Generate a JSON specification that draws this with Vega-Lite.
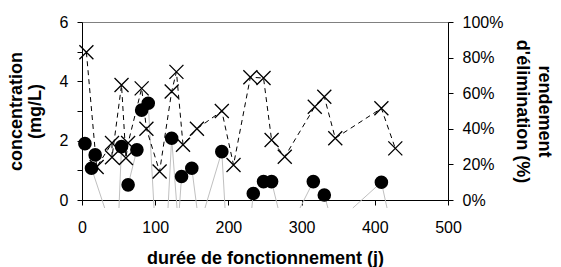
{
  "$schema": "https://vega.github.io/schema/vega-lite/v6.json",
  "width": 366,
  "height": 178,
  "autosize": {"type": "none"},
  "padding": {"left": 82, "top": 22, "right": 113, "bottom": 67},
  "background": "white",
  "config": {
    "view": {"stroke": "#808080", "strokeWidth": 1},
    "font": "Liberation Sans",
    "axis": {
      "labelFont": "Liberation Sans",
      "titleFont": "Liberation Sans",
      "labelColor": "black",
      "titleColor": "black",
      "domainColor": "black",
      "tickColor": "black",
      "grid": false,
      "labelFontSize": 16,
      "titleFontSize": 18,
      "titleFontWeight": "bold"
    }
  },
  "datasets": {
    "conc": [
      {"jour": 4, "conc": 1.9}, {"jour": 13, "conc": 1.07}, {"jour": 18, "conc": 1.52},
      {"jour": 54, "conc": 1.8}, {"jour": 63, "conc": 0.51}, {"jour": 75, "conc": 1.69},
      {"jour": 81.5, "conc": 3.03}, {"jour": 90.5, "conc": 3.26}, {"jour": 122.5, "conc": 2.08},
      {"jour": 136, "conc": 0.79}, {"jour": 150, "conc": 1.07}, {"jour": 191, "conc": 1.63},
      {"jour": 234, "conc": 0.22}, {"jour": 248, "conc": 0.62}, {"jour": 259, "conc": 0.62},
      {"jour": 316, "conc": 0.62}, {"jour": 331, "conc": 0.17}, {"jour": 409, "conc": 0.6}
    ],
    "rend": [
      {"jour": 6, "rendement": 83}, {"jour": 20, "rendement": 18.5}, {"jour": 41, "rendement": 32},
      {"jour": 41, "rendement": 24}, {"jour": 54, "rendement": 64.6}, {"jour": 60, "rendement": 23.6},
      {"jour": 63, "rendement": 32}, {"jour": 81.5, "rendement": 62.7}, {"jour": 88, "rendement": 40},
      {"jour": 106, "rendement": 16}, {"jour": 122.5, "rendement": 61}, {"jour": 129, "rendement": 72},
      {"jour": 138, "rendement": 31}, {"jour": 157, "rendement": 40}, {"jour": 191, "rendement": 50},
      {"jour": 207, "rendement": 19.7}, {"jour": 230, "rendement": 69}, {"jour": 248, "rendement": 68.5},
      {"jour": 259, "rendement": 33.7}, {"jour": 277, "rendement": 24.3}, {"jour": 318, "rendement": 52.4},
      {"jour": 331, "rendement": 58}, {"jour": 346, "rendement": 34.7}, {"jour": 409, "rendement": 51.5},
      {"jour": 428, "rendement": 29}
    ],
    "seg": [
      {"jour": 13, "conc": 1.07, "jour_fin": 31, "conc_fin": -0.27},
      {"jour": 54, "conc": 1.8, "jour_fin": 50.5, "conc_fin": -0.27},
      {"jour": 75, "conc": 1.69, "jour_fin": 63, "conc_fin": 0.51},
      {"jour": 90.5, "conc": 3.26, "jour_fin": 98.4, "conc_fin": -0.27},
      {"jour": 122.5, "conc": 2.08, "jour_fin": 117.5, "conc_fin": -0.27},
      {"jour": 122.5, "conc": 2.08, "jour_fin": 129.8, "conc_fin": -0.27},
      {"jour": 136, "conc": 0.79, "jour_fin": 133, "conc_fin": -0.27},
      {"jour": 150, "conc": 1.07, "jour_fin": 157, "conc_fin": -0.27},
      {"jour": 191, "conc": 1.63, "jour_fin": 168, "conc_fin": -0.27},
      {"jour": 191, "conc": 1.63, "jour_fin": 195.4, "conc_fin": -0.27},
      {"jour": 234, "conc": 0.22, "jour_fin": 232, "conc_fin": -0.27},
      {"jour": 259, "conc": 0.62, "jour_fin": 267.8, "conc_fin": -0.27},
      {"jour": 316, "conc": 0.62, "jour_fin": 297.8, "conc_fin": -0.27},
      {"jour": 331, "conc": 0.17, "jour_fin": 336, "conc_fin": -0.27},
      {"jour": 409, "conc": 0.6, "jour_fin": 370, "conc_fin": -0.27},
      {"jour": 409, "conc": 0.6, "jour_fin": 416.7, "conc_fin": -0.27}
    ]
  },
  "layer": [
    {
      "data": {"name": "seg"},
      "mark": {"type": "rule", "color": "#c0c0c0", "strokeWidth": 1},
      "encoding": {
        "x": {
          "field": "jour", "type": "quantitative",
          "scale": {"domain": [0, 500], "nice": false},
          "axis": {
            "values": [0, 100, 200, 300, 400, 500],
            "title": "durée de fonctionnement (j)",
            "tickSize": 5,
            "labelPadding": 14,
            "labelOverlap": false,
            "labelFlush": false,
            "titleY": 63,
            "titleBaseline": "alphabetic"
          }
        },
        "x2": {"field": "jour_fin"},
        "y": {
          "field": "conc", "type": "quantitative",
          "scale": {"domain": [0, 6], "nice": false},
          "axis": null
        },
        "y2": {"field": "conc_fin"}
      }
    },
    {
      "data": {"name": "rend"},
      "encoding": {
        "x": {"field": "jour", "type": "quantitative"},
        "y": {
          "field": "rendement", "type": "quantitative",
          "scale": {"domain": [0, 100], "nice": false},
          "axis": {
            "orient": "right",
            "values": [0, 20, 40, 60, 80, 100],
            "labelExpr": "datum.value + '%'",
            "labelOverlap": false,
            "labelFlush": false,
            "labelBound": false,
            "tickSize": 5,
            "labelPadding": 9,
            "title": ["rendement", "d'élimination (%)"],
            "titleAngle": 90,
            "titleX": 90.5,
            "titleBaseline": "alphabetic",
            "titleLineHeight": 22
          }
        }
      },
      "layer": [
        {"mark": {"type": "line", "color": "black", "strokeWidth": 1, "strokeDash": [5, 4]}},
        {"mark": {"type": "point", "shape": "M-1,-1L1,1M-1,1L1,-1", "filled": false, "color": "black", "size": 196, "strokeWidth": 1.3, "opacity": 1}}
      ]
    },
    {
      "data": {"name": "conc"},
      "mark": {"type": "point", "shape": "circle", "filled": true, "color": "black", "size": 185, "opacity": 1},
      "encoding": {
        "x": {"field": "jour", "type": "quantitative"},
        "y": {
          "field": "conc", "type": "quantitative",
          "scale": {"domain": [0, 6], "nice": false},
          "axis": {
            "orient": "left",
            "values": [0, 1, 2, 3, 4, 5, 6],
            "labelExpr": "datum.value % 2 === 0 ? datum.label : ''",
            "labelOverlap": false,
            "labelFlush": false,
            "tickSize": 5,
            "labelPadding": 9,
            "title": ["concentration", "(mg/L)"],
            "titleAngle": 270,
            "titleX": -60.5,
            "titleBaseline": "alphabetic",
            "titleLineHeight": 19
          }
        }
      }
    }
  ],
  "resolve": {"scale": {"y": "independent"}}
}
